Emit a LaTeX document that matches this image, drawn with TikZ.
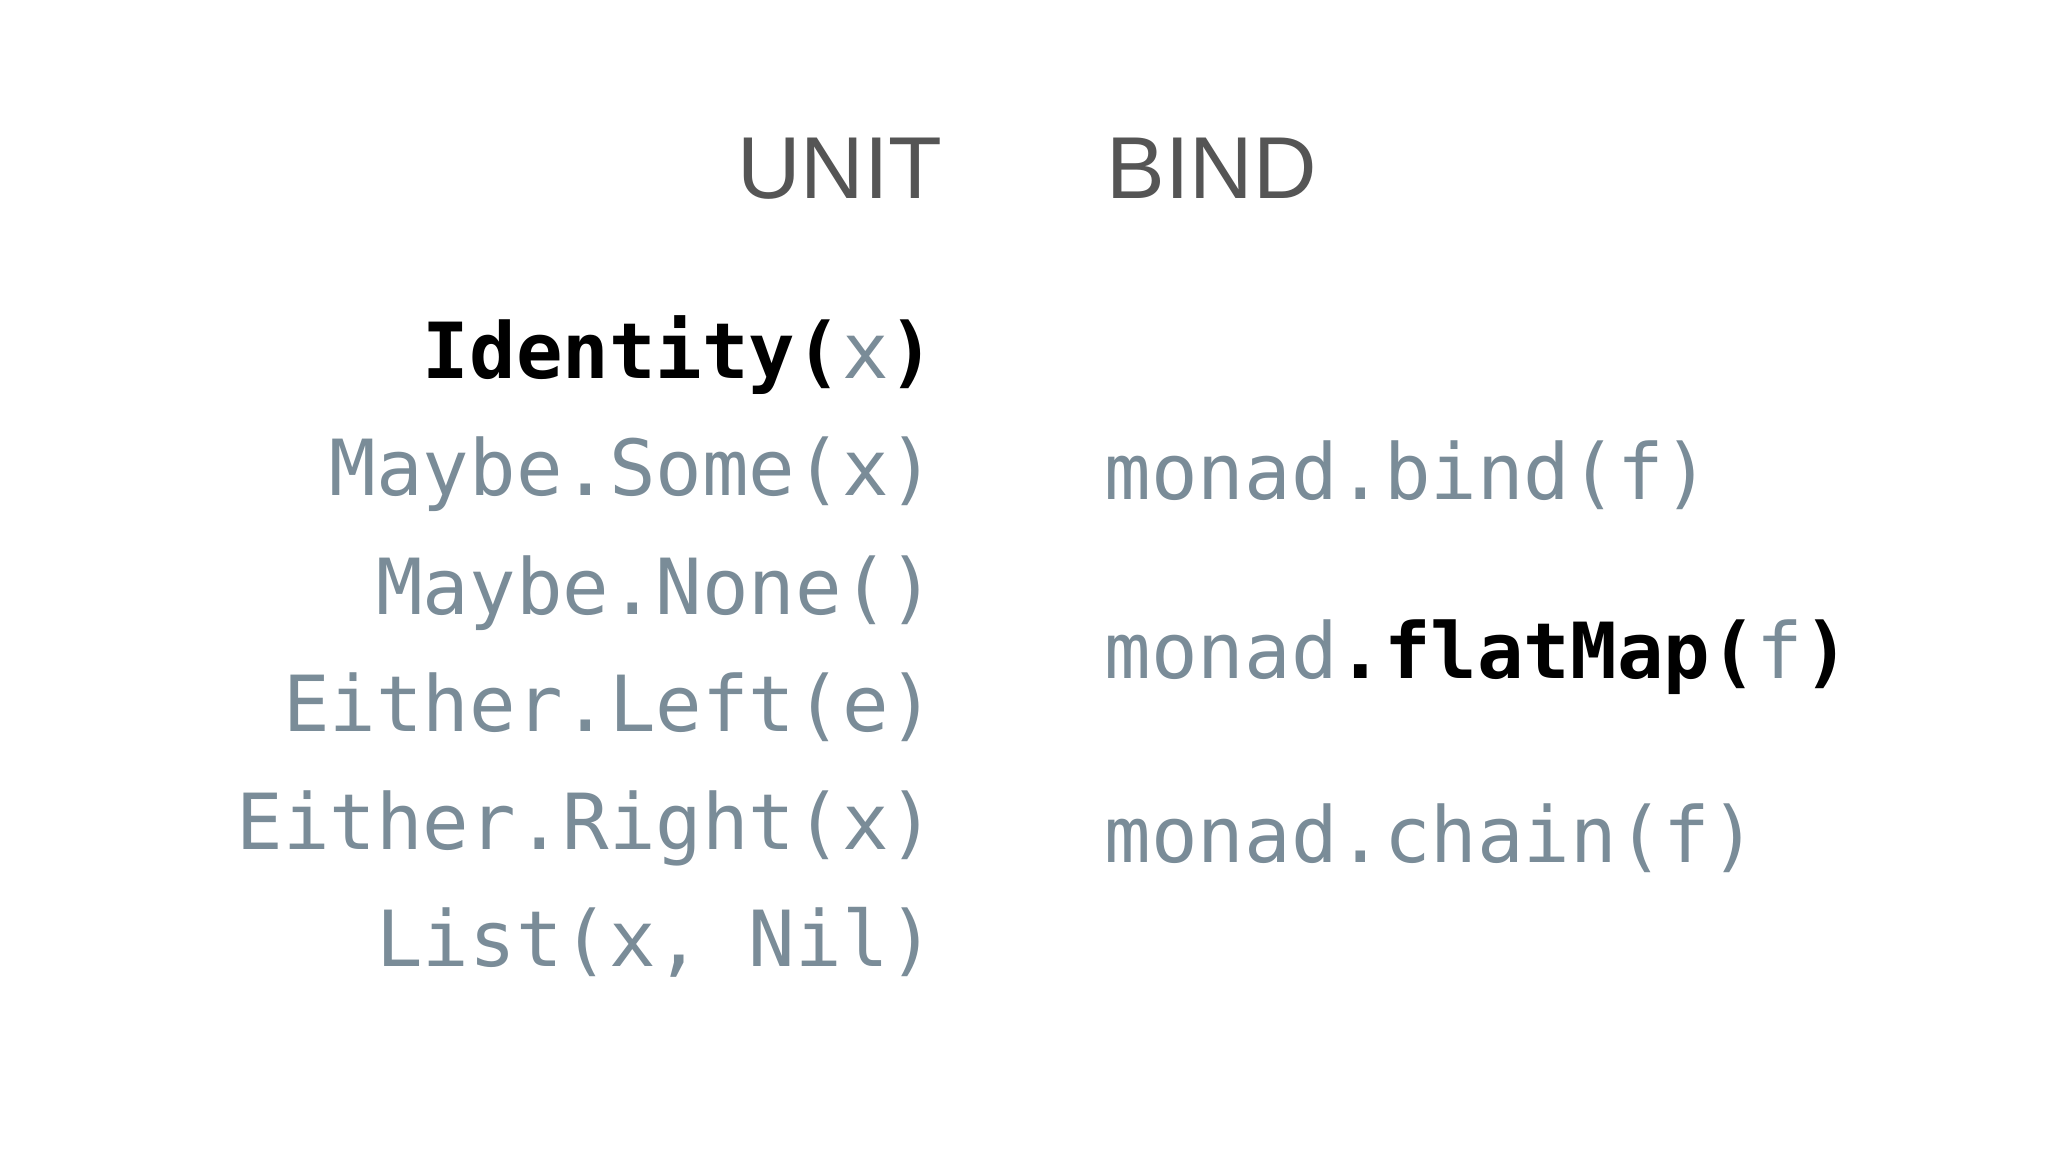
\documentclass[tikz,border=0pt]{standalone}
\usepackage{fontspec}
\setmainfont{Liberation Sans}
\setmonofont{DejaVu Sans Mono}
\definecolor{codegray}{HTML}{7A8C98}
\definecolor{headgray}{HTML}{555555}
\begin{document}
\begin{tikzpicture}[x=0.01cm,y=-0.01cm,
  code/.style={inner sep=0pt,font=\fontsize{22}{26}\selectfont\ttfamily,text=codegray},
  head/.style={inner sep=0pt,font=\fontsize{25}{30}\selectfont,text=headgray}]
\fill[white] (0,0) rectangle (2048,1152);
\node[head,anchor=base east] (unit) at (943,199) {UNIT};
\node[head,anchor=base west] (bind) at (1106,199) {BIND};
\node[code,anchor=base east] (id) at (936,379) {\textcolor{black}{\bfseries Identity(}x\textcolor{black}{\bfseries )}};
\node[code,anchor=base east] (some) at (936,496) {Maybe.Some(x)};
\node[code,anchor=base east] (none) at (936,614) {Maybe.None()};
\node[code,anchor=base east] (left) at (936,731) {Either.Left(e)};
\node[code,anchor=base east] (right) at (936,849) {Either.Right(x)};
\node[code,anchor=base east] (list) at (936,966) {List(x, Nil)};
\node[code,anchor=base west] (mb) at (1104,500) {monad.bind(f)};
\node[code,anchor=base west] (mf) at (1104,679) {monad\textcolor{black}{\bfseries .flatMap(}f\textcolor{black}{\bfseries )}};
\node[code,anchor=base west] (mc) at (1104,862) {monad.chain(f)};
\end{tikzpicture}
\end{document}
